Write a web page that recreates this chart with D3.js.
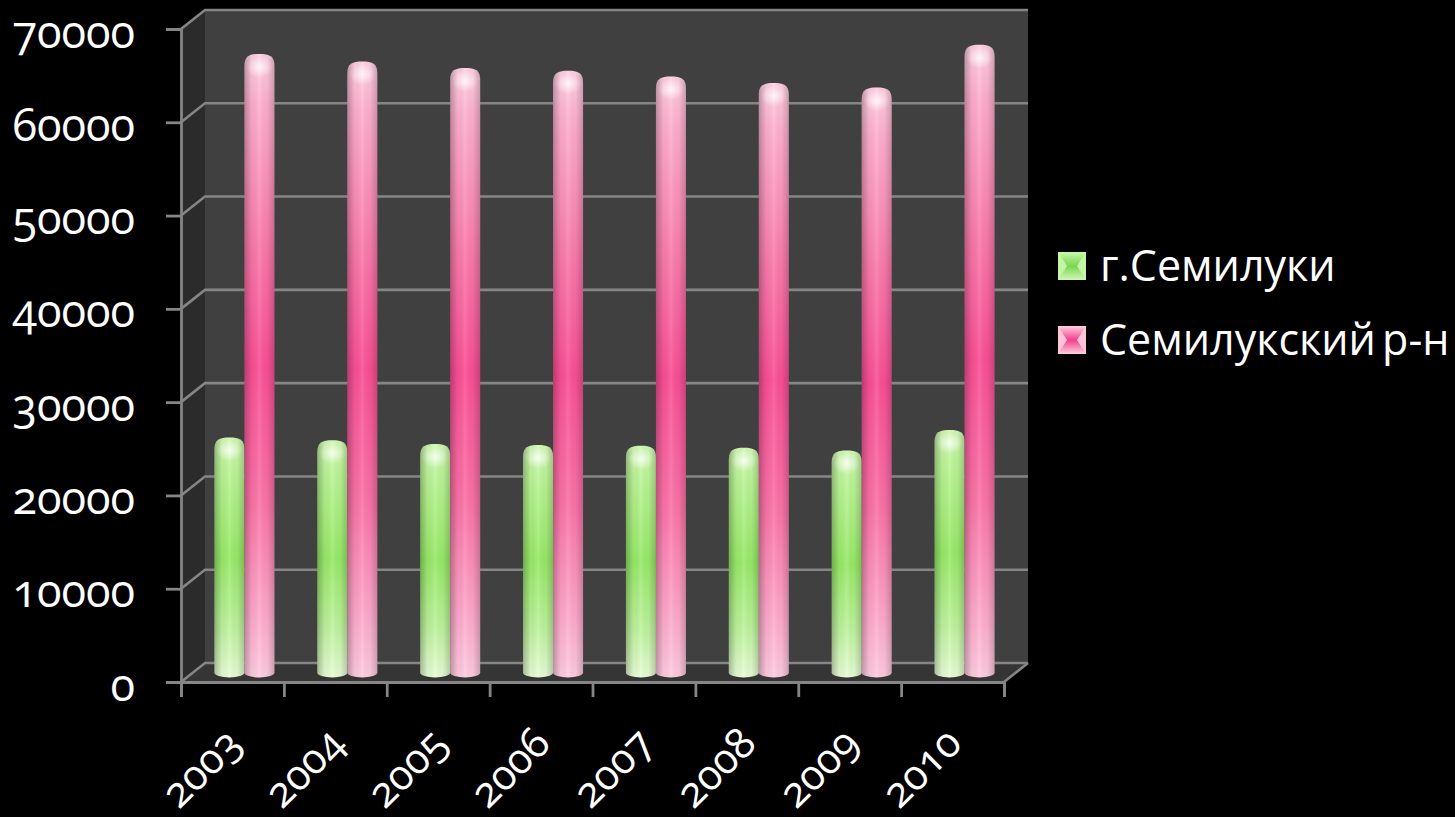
<!DOCTYPE html>
<html>
<head>
<meta charset="utf-8">
<script src="https://d3js.org/d3.v7.min.js"></script>
<style>
html, body { margin: 0; padding: 0; background: #000; overflow: hidden; }
text { font-family: "Open Sans", Lato, sans-serif; fill: #fff; font-variant-numeric: oldstyle-nums; font-feature-settings: "onum"; }
</style>
</head>
<body>
<div id="view"></div>
<script>
var width = 1455, height = 817;

var years = ["2003", "2004", "2005", "2006", "2007", "2008", "2009", "2010"];
var cityValues = [25200, 24900, 24500, 24400, 24300, 24100, 23800, 26000];      // г.Семилуки
var districtValues = [66300, 65500, 64800, 64500, 63900, 63200, 62700, 67300];  // Семилукский р-н
var seriesNames = ["г.Семилуки", "Семилукский р-н"];
var yTicks = [0, 10000, 20000, 30000, 40000, 50000, 60000, 70000];

var svg = d3.select("#view").append("svg")
	.attr("width", width)
	.attr("height", height);

var x = d3.scaleBand().domain(years).range([181, 1004]);
var y = d3.scaleLinear().domain([0, 70000]).range([682, 29]);
var depthX = 24, depthY = -19;   // 3D depth of the box
var x0 = x.range()[0], x1 = x.range()[1];
var y0 = y(0), yTop = y(70000);

// gradients
var defs = svg.append("defs");
function vGrad(id, stops) {
	var g = defs.append("linearGradient").attr("id", id)
		.attr("x1", 0).attr("y1", 0).attr("x2", 0).attr("y2", 1);
	stops.forEach(function(s) { g.append("stop").attr("offset", s[0]).attr("stop-color", s[1]); });
}
// measured along the whole bar height
vGrad("pinkV", [[0, "#ffd0e2"], [0.08, "#ffb0ce"], [0.3, "#fb7cac"], [0.5, "#fb4f96"], [0.72, "#fc74a8"], [0.92, "#ffb0d0"], [1, "#ffcce0"]]);
vGrad("greenV", [[0, "#d2f8b4"], [0.12, "#bef69a"], [0.5, "#98ea68"], [0.8, "#c0f4a0"], [1, "#e8fdd6"]]);
vGrad("pinkS1", [[0, "#ffd0e0"], [0.5, "#f23f88"], [1, "#ffd0e0"]]);
vGrad("greenS1", [[0, "#c8f8a8"], [0.5, "#78d850"], [1, "#d0f8b4"]]);

var shade = defs.append("linearGradient").attr("id", "shade")
	.attr("x1", 0).attr("y1", 0).attr("x2", 1).attr("y2", 0);
[[0, "#000", 0.26], [0.25, "#000", 0.04], [0.5, "#fff", 0.1], [0.75, "#000", 0.03], [1, "#000", 0.2]].forEach(function(s) {
	shade.append("stop").attr("offset", s[0]).attr("stop-color", s[1]).attr("stop-opacity", s[2]);
});
var cap = defs.append("radialGradient").attr("id", "cap");
cap.append("stop").attr("offset", 0).attr("stop-color", "#fff").attr("stop-opacity", 0.8);
cap.append("stop").attr("offset", 1).attr("stop-color", "#fff").attr("stop-opacity", 0);

// box walls
var line = d3.line();
svg.append("path").attr("fill", "#404040")
	.attr("d", line([[x0 + depthX, yTop + depthY], [x1 + depthX, yTop + depthY], [x1 + depthX, y0 + depthY], [x0 + depthX, y0 + depthY]]) + "Z");
svg.append("path").attr("fill", "#2b2b2b")
	.attr("d", line([[x0, yTop], [x0 + depthX, yTop + depthY], [x0 + depthX, y0 + depthY], [x0, y0]]) + "Z");
svg.append("path").attr("fill", "#353535")
	.attr("d", line([[x0, y0], [x0 + depthX, y0 + depthY], [x1 + depthX, y0 + depthY], [x1, y0]]) + "Z");

// gridlines on the walls
svg.append("g").selectAll("path").data(yTicks).enter().append("path")
	.attr("fill", "none")
	.attr("stroke", "#858585")
	.attr("stroke-width", 2.6)
	.attr("d", function(d) {
		return line([[x0, y(d)], [x0 + depthX, y(d) + depthY], [x1 + depthX, y(d) + depthY]]);
	});
svg.append("path").attr("fill", "none").attr("stroke", "#858585").attr("stroke-width", 2.6)
	.attr("d", line([[x1, y0], [x1 + depthX, y0 + depthY]]));

// axes
var yAxis = svg.append("g")
	.attr("transform", "translate(" + x0 + ",0)")
	.call(d3.axisLeft(y).tickValues(yTicks).tickSize(15).tickPadding(31).tickFormat(d3.format("d")));
var xTickScale = d3.scalePoint().domain(d3.range(years.length + 1)).range(x.range());
var xAxis = svg.append("g")
	.attr("transform", "translate(0," + y0 + ")")
	.call(d3.axisBottom(xTickScale).tickSize(15).tickFormat(""));
[yAxis, xAxis].forEach(function(a) {
	a.selectAll("path,line").attr("stroke", "#858585").attr("stroke-width", 2.8);
});
yAxis.selectAll("text").attr("font-size", 45).attr("dy", "0.4em").style("font-family", null);

// year labels
svg.append("g").selectAll("text").data(years).enter().append("text")
	.attr("text-anchor", "middle")
	.attr("font-size", 42)
	.attr("transform", function(d) {
		return "translate(" + (x(d) + x.bandwidth() / 2 - 21) + ",778) rotate(-45)";
	})
	.text(function(d) { return d; });

// cylinders
var barW = 30, midX = depthX / 2, midY = depthY / 2, rx = barW / 2, ryTop = 12, ryBot = 5;
function barPath(left, value) {
	var top = y(value) + midY, bot = y(0) + midY;
	return "M" + left + "," + bot +
		"V" + (top + ryTop) +
		"C" + left + "," + (top + 2) + " " + (left + 5) + "," + top + " " + (left + rx) + "," + top +
		"C" + (left + barW - 5) + "," + top + " " + (left + barW) + "," + (top + 2) + " " + (left + barW) + "," + (top + ryTop) +
		"V" + bot +
		"A" + rx + "," + ryBot + " 0 0 1 " + left + "," + bot + "Z";
}
function drawSeries(values, offset, fillId) {
	var g = svg.append("g").selectAll("g").data(years).enter().append("g");
	function leftOf(d) { return x(d) + x.bandwidth() / 2 + midX + offset; }
	function valueOf(d, i) { return values[i]; }
	g.append("path").attr("fill", "url(#" + fillId + ")")
		.attr("d", function(d, i) { return barPath(leftOf(d), valueOf(d, i)); });
	g.append("path").attr("fill", "url(#shade)")
		.attr("d", function(d, i) { return barPath(leftOf(d), valueOf(d, i)); });
	g.append("ellipse").attr("fill", "url(#cap)")
		.attr("cx", function(d) { return leftOf(d) + rx; })
		.attr("cy", function(d, i) { return y(valueOf(d, i)) + midY + 13; })
		.attr("rx", rx - 2)
		.attr("ry", 11);
}
drawSeries(cityValues, -barW, "greenV");
drawSeries(districtValues, 0, "pinkV");

// legend
var legendFill = ["greenS1", "pinkS1"];
var legendEdge = ["#c4f4a6", "#ffc4da"];
var legendY = d3.scalePoint().domain(seriesNames).range([266, 340]);
var legend = svg.append("g").selectAll("g").data(seriesNames).enter().append("g")
	.attr("transform", function(d) { return "translate(1058," + legendY(d) + ")"; });
legend.append("rect").attr("y", -14).attr("width", 28).attr("height", 28)
	.attr("fill", function(d, i) { return "url(#" + legendFill[i] + ")"; });
legend.append("path").attr("fill", function(d, i) { return legendEdge[i]; })
	.attr("d", "M0,-14L9,0L0,14Z");
legend.append("path").attr("fill", function(d, i) { return legendEdge[i]; })
	.attr("d", "M28,-14L19,0L28,14Z");
legend.append("text")
	.attr("x", 42)
	.attr("dy", "0.34em")
	.attr("font-size", 43)
	.attr("word-spacing", -5)
	.text(function(d) { return d; });
</script>
</body>
</html>
